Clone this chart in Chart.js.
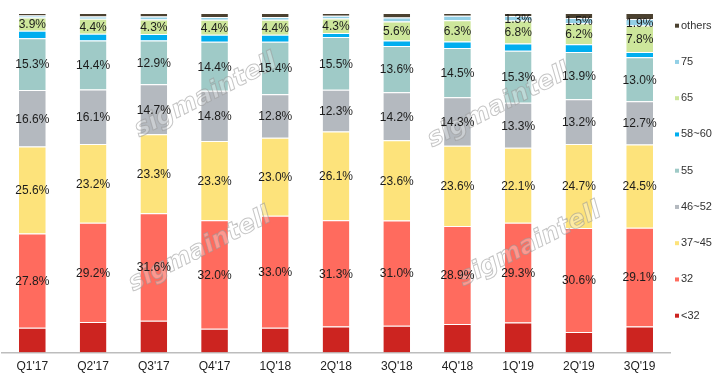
<!DOCTYPE html>
<html>
<head>
<meta charset="utf-8">
<script src="https://cdn.jsdelivr.net/npm/chart.js@4/dist/chart.umd.min.js"></script>
<style>
html,body{margin:0;padding:0;background:#fff;}
#wrap{width:725px;height:388px;}
</style>
</head>
<body>
<div id="wrap"><canvas id="c" width="725" height="388"></canvas></div>
<script>
const categories = ["Q1'17","Q2'17","Q3'17","Q4'17","1Q'18","2Q'18","3Q'18","4Q'18","1Q'19","2Q'19","3Q'19"];
const sLt32    = [7.3, 9.0, 9.4, 7.0, 7.3, 7.7, 7.9, 8.4, 8.9, 6.1, 7.7];
const s32      = [27.8, 29.2, 31.6, 32.0, 33.0, 31.3, 31.0, 28.9, 29.3, 30.6, 29.1];
const s37_45   = [25.6, 23.2, 23.3, 23.3, 23.0, 26.1, 23.6, 23.6, 22.1, 24.7, 24.5];
const s46_52   = [16.6, 16.1, 14.7, 14.8, 12.8, 12.3, 14.2, 14.3, 13.3, 13.2, 12.7];
const s55      = [15.3, 14.4, 12.9, 14.4, 15.4, 15.5, 13.6, 14.5, 15.3, 13.9, 13.0];
const s58_60   = [2.2, 2.0, 1.9, 2.1, 2.1, 1.2, 1.6, 1.9, 2.1, 2.3, 1.5];
const s65      = [3.9, 4.4, 4.3, 4.4, 4.4, 4.3, 5.6, 6.3, 6.8, 6.2, 7.8];
const s75      = [0.6, 0.7, 0.9, 0.8, 0.8, 0.8, 1.2, 1.3, 1.3, 1.5, 1.9];
const sOthers  = [0.7, 1.0, 1.0, 1.2, 1.2, 0.8, 1.3, 0.8, 0.9, 1.5, 1.8];
// which bars carry a printed value label for the "75" series
const labelled75 = [false,false,false,false,false,false,false,false,true,true,true];

const all = categories.map(()=>true);
const none = categories.map(()=>false);

const series = [
  {label:'<32',    data:sLt32,   color:'#cc2420', show:none},
  {label:'32',     data:s32,     color:'#ff6b5e', show:all},
  {label:'37~45',  data:s37_45,  color:'#fde37b', show:all},
  {label:'46~52',  data:s46_52,  color:'#b4b9bf', show:all},
  {label:'55',     data:s55,     color:'#9fcac7', show:all},
  {label:'58~60',  data:s58_60,  color:'#00aeef', show:none},
  {label:'65',     data:s65,     color:'#cde69b', show:all},
  {label:'75',     data:s75,     color:'#93d0e6', show:labelled75},
  {label:'others', data:sOthers, color:'#4b4130', show:none}
];

const FONT = '"Liberation Sans", Arial, sans-serif';

const valueLabels = {
  id:'valueLabels',
  afterDatasetsDraw(chart){
    const ctx = chart.ctx;
    ctx.save();
    ctx.font = '12px ' + FONT;
    ctx.fillStyle = '#1c1c1c';
    ctx.textAlign = 'center';
    ctx.textBaseline = 'middle';
    chart.data.datasets.forEach((ds, di)=>{
      const meta = chart.getDatasetMeta(di);
      meta.data.forEach((el, i)=>{
        if(!ds.showLabel[i]) return;
        const y = (el.y + el.base)/2;
        ctx.fillText(ds.data[i].toFixed(1) + '%', el.x, y + 1);
      });
    });
    ctx.restore();
  }
};

const sideLegend = {
  id:'sideLegend',
  afterDraw(chart){
    const ctx = chart.ctx;
    ctx.save();
    ctx.font = '11px ' + FONT;
    ctx.textBaseline = 'middle';
    ctx.textAlign = 'left';
    const items = chart.data.datasets.slice().reverse();
    items.forEach((ds, k)=>{
      const y = 25.7 + 36.25*k;
      ctx.fillStyle = ds.backgroundColor;
      ctx.fillRect(675, y-2, 4, 4);
      ctx.fillStyle = '#333';
      ctx.fillText(ds.label, 681, y);
    });
    ctx.restore();
  }
};

const watermark = {
  id:'watermark',
  afterDatasetsDraw(chart){
    const ctx = chart.ctx;
    const spots = [[206,96],[200,250],[499,106],[530,245]];
    ctx.save();
    ctx.font = 'italic bold 25px "DejaVu Sans", sans-serif';
    ctx.textAlign = 'center';
    ctx.textBaseline = 'middle';
    spots.forEach(([x,y])=>{
      ctx.save();
      ctx.translate(x,y);
      ctx.rotate(-27*Math.PI/180);
      ctx.fillStyle = 'rgba(255,255,255,0.3)';
      ctx.fillText('sigmaintell', 0, 0);
      ctx.lineWidth = 1;
      ctx.strokeStyle = 'rgba(150,150,150,0.55)';
      ctx.strokeText('sigmaintell', 0, 0);
      ctx.restore();
    });
    ctx.restore();
  }
};

new Chart(document.getElementById('c'), {
  type:'bar',
  data:{
    labels:categories,
    datasets:series.map(s=>({
      label:s.label,
      data:s.data,
      backgroundColor:s.color,
      borderColor:'#ffffff',
      borderWidth:{top:1,bottom:0,left:0,right:0},
      borderSkipped:'start',
      showLabel:s.show,
      barPercentage:0.44,
      categoryPercentage:1.0
    }))
  },
  options:{
    responsive:false,
    animation:false,
    devicePixelRatio:1,
    layout:{padding:{left:2,right:55,top:13,bottom:7}},
    plugins:{legend:{display:false},tooltip:{enabled:false}},
    scales:{
      x:{
        stacked:true,
        grid:{display:false,drawTicks:false},
        border:{display:true,color:'#bdbdbd',width:1.5},
        ticks:{color:'#222',font:{family:FONT,size:12},padding:7,maxRotation:0,autoSkip:false}
      },
      y:{
        stacked:true,
        display:false,
        min:0,max:100
      }
    }
  },
  plugins:[watermark, valueLabels, sideLegend]
});
</script>
</body>
</html>
